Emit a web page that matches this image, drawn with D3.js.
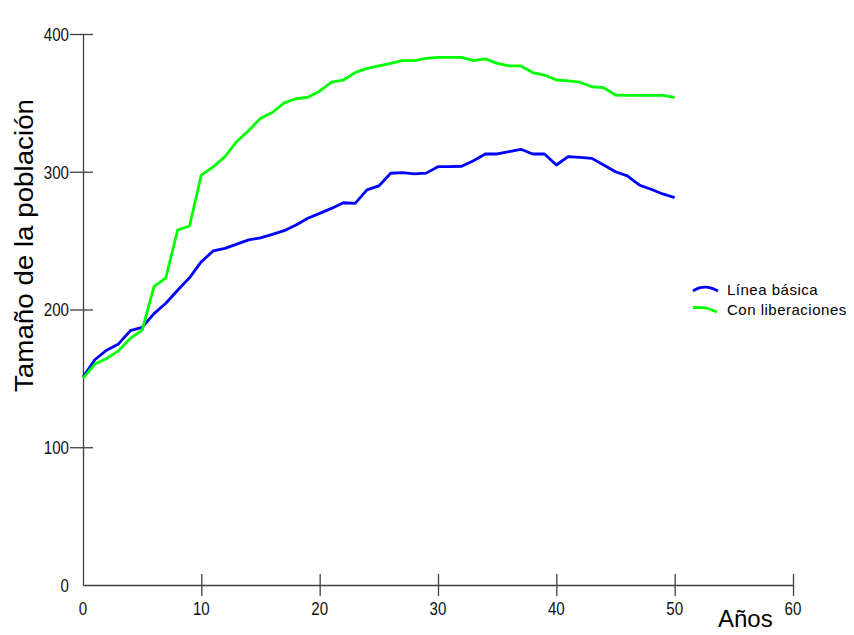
<!DOCTYPE html>
<html>
<head>
<meta charset="utf-8">
<script src="https://cdn.jsdelivr.net/npm/d3@7"></script>
<style>
  body { margin: 0; background: #fff; }
  svg { display: block; }
</style>
</head>
<body>
<div id="chart"></div>
<script>
// years 0..50
var years = d3.range(0, 51);
var basica = [151, 163.5, 170.5, 175, 184.6, 187, 197, 204.5, 214, 223,
  234.7, 242.5, 244.4, 247.5, 250.5, 252, 254.6, 257.2, 261.3, 266.2,
  269.8, 273.4, 277.5, 277, 286.8, 289.7, 298.9, 299.3, 298.4, 299,
  303.7, 303.7, 304, 308, 312.9, 312.9, 314.6, 316.3, 312.9, 312.9,
  304.9, 311, 310.5, 309.7, 304.9, 300, 297, 290.4, 287.3, 283.9, 281.2];
var liberaciones = [150, 160.4, 164.5, 170, 179, 185, 216.6, 223, 257.7, 260.6,
  297.6, 303.5, 311, 322, 330, 338.8, 343, 350, 353, 354,
  358.5, 365, 366.6, 372, 375, 376.8, 378.7, 380.6, 380.6, 382.3,
  383, 383, 383, 380.6, 381.9, 378.7, 376.8, 376.8, 372, 370.2,
  366.6, 366, 365, 361.7, 361, 355.7, 355.5, 355.5, 355.5, 355.5, 354];
var xTicks = [10, 20, 30, 40, 50, 60];
var yTicks = [100, 200, 300, 400];
var seriesNames = ['Línea básica', 'Con liberaciones'];
var seriesColors = ['#0000ff', '#00ff00'];

var width = 854, height = 635;
var axisColor = '#404040';
var digitW = 8.4;

var svg = d3.select('#chart').append('svg')
  .attr('width', width)
  .attr('height', height);

var x = d3.scaleLinear().domain([0, 60]).range([83, 793]);
var y = d3.scaleLinear().domain([0, 400]).range([585, 34]);

//x axis, ticks cross the line
var gx = svg.append('g')
  .attr('transform', 'translate(0,' + y(0) + ')')
  .call(d3.axisBottom(x).tickValues(xTicks).tickSize(11).tickSizeOuter(0).tickFormat(''));
gx.select('.domain').attr('stroke', axisColor).attr('stroke-width', 1.3);
gx.selectAll('.tick line').attr('y1', -11).attr('y2', 11)
  .attr('stroke', axisColor).attr('stroke-width', 1.3);

//y axis
var gy = svg.append('g')
  .attr('transform', 'translate(' + x(0) + ',0)')
  .call(d3.axisLeft(y).tickValues(yTicks).tickSize(13).tickSizeOuter(0).tickFormat(''));
gy.select('.domain').attr('stroke', axisColor).attr('stroke-width', 1.3);
gy.selectAll('.tick line').attr('x2', -13).attr('x1', 10)
  .attr('stroke', axisColor).attr('stroke-width', 1.3);

//tick labels (narrow digits)
var labelStyle = function (sel) {
  sel.attr('font-family', 'Liberation Sans, Arial, sans-serif')
    .attr('font-size', '19px')
    .attr('fill', '#111')
    .attr('lengthAdjust', 'spacingAndGlyphs')
    .attr('textLength', function (d) { return String(d).length * digitW; });
};
svg.append('g').selectAll('text')
  .data([0].concat(xTicks))
  .enter().append('text')
  .attr('x', function (d) { return x(d); })
  .attr('y', 615)
  .attr('text-anchor', 'middle')
  .text(function (d) { return d; })
  .call(labelStyle);
svg.append('g').selectAll('text')
  .data([0].concat(yTicks))
  .enter().append('text')
  .attr('x', 69)
  .attr('y', function (d) { return y(d) + 6.8; })
  .attr('text-anchor', 'end')
  .text(function (d) { return d; })
  .call(labelStyle);

//axis titles
svg.append('text')
  .attr('x', 718).attr('y', 627)
  .attr('font-family', 'Liberation Sans, Arial, sans-serif')
  .attr('font-size', '24px').attr('fill', '#000')
  .text('Años');
svg.append('text')
  .attr('transform', 'translate(33,' + 245.5 + ') rotate(-90)')
  .attr('text-anchor', 'middle')
  .attr('font-family', 'Liberation Sans, Arial, sans-serif')
  .attr('font-size', '26px').attr('fill', '#000')
  .attr('textLength', 293).attr('lengthAdjust', 'spacingAndGlyphs')
  .text('Tamaño de la población');

//lines
var line = d3.line()
  .x(function (d, i) { return x(years[i]); })
  .y(function (d) { return y(d); });
[basica, liberaciones].forEach(function (s, k) {
  svg.append('path')
    .datum(s)
    .attr('d', line)
    .attr('fill', 'none')
    .attr('stroke', seriesColors[k])
    .attr('stroke-width', 2.8)
    .attr('stroke-linejoin', 'round');
});

//legend
var sampleLine = d3.line().curve(d3.curveBasis);
var samples = [
  [[693, 291], [700, 287], [707, 287], [712, 288], [718, 291]],
  [[693, 307.5], [701, 307.5], [707, 308], [712, 310], [717, 312]]
];
var legend = svg.append('g');
seriesNames.forEach(function (name, k) {
  legend.append('path')
    .attr('d', sampleLine(samples[k]))
    .attr('fill', 'none')
    .attr('stroke', seriesColors[k])
    .attr('stroke-width', 2.8);
  legend.append('text')
    .attr('x', 727)
    .attr('y', 295 + k * 19.5)
    .attr('font-family', 'Liberation Sans, Arial, sans-serif')
    .attr('font-size', '15px')
    .attr('letter-spacing', '0.5px')
    .attr('fill', '#000')
    .text(name);
});
</script>
</body>
</html>
